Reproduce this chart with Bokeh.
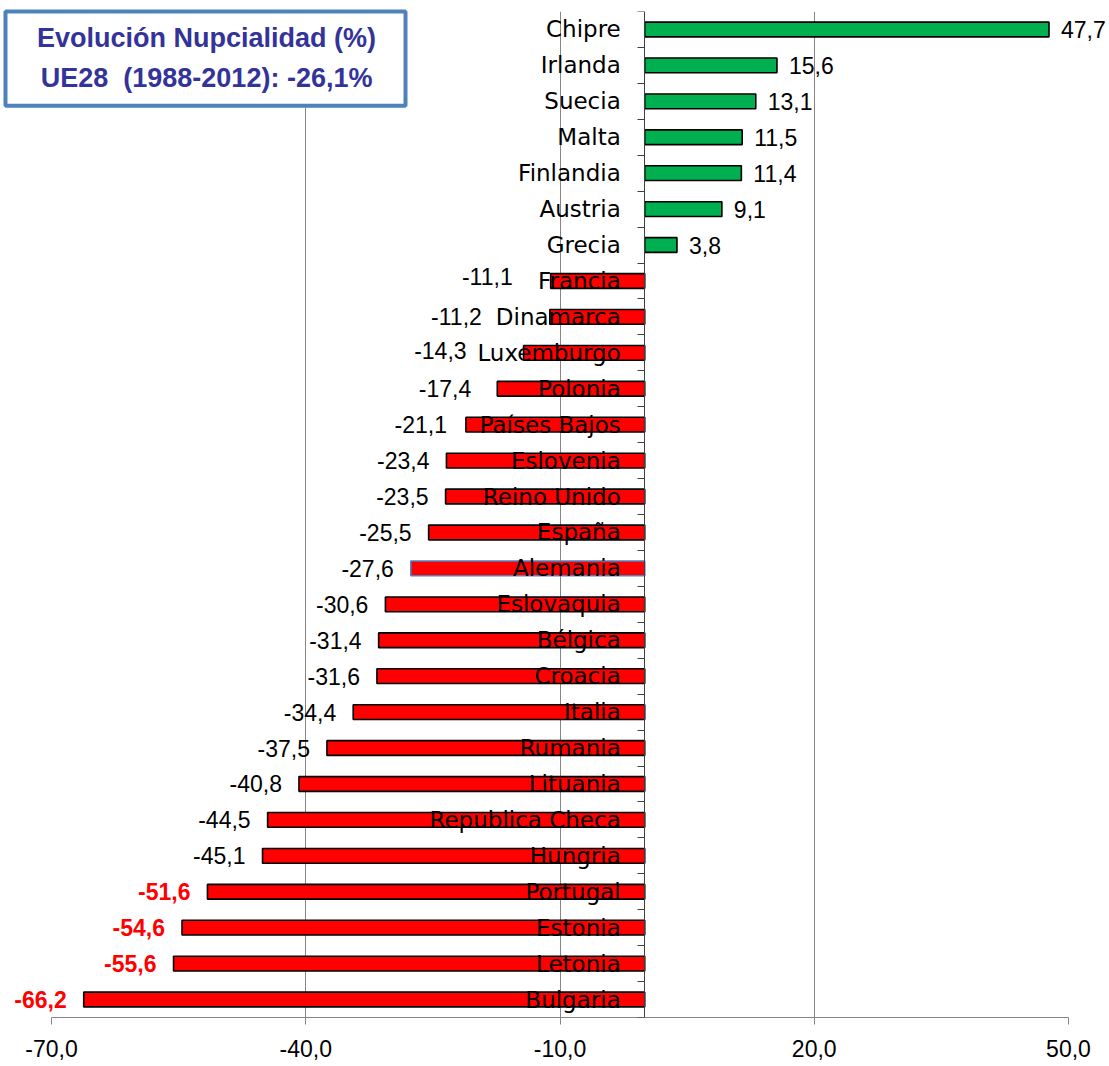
from bokeh.plotting import figure
from bokeh.models import (ColumnDataSource, Range1d, FixedTicker, LinearAxis)
from bokeh.core.properties import value
from bokeh.embed import file_html
from bokeh.resources import INLINE

# ---------------- data ----------------
countries = ["Chipre", "Irlanda", "Suecia", "Malta", "Finlandia", "Austria", "Grecia",
             "Francia", "Dinamarca", "Luxemburgo", "Polonia", "Países Bajos", "Eslovenia",
             "Reino Unido", "España", "Alemania", "Eslovaquia", "Bélgica", "Croacia",
             "Italia", "Rumania", "Lituania", "Republica Checa", "Hungria", "Portugal",
             "Estonia", "Letonia", "Bulgaria"]
values = [47.7, 15.6, 13.1, 11.5, 11.4, 9.1, 3.8,
          -11.1, -11.2, -14.3, -17.4, -21.1, -23.4,
          -23.5, -25.5, -27.6, -30.6, -31.4, -31.6,
          -34.4, -37.5, -40.8, -44.5, -45.1, -51.6,
          -54.6, -55.6, -66.2]
x_ticks = [-70, -40, -10, 20, 50]
x_tick_labels = ["-70,0", "-40,0", "-10,0", "20,0", "50,0"]
title_lines = ["Evolución Nupcialidad (%)", "UE28\u00a0 (1988-2012): -26,1%"]
highlighted = ["Alemania"]  # bar with bluish outline

# ---------------- styling helpers ----------------
GREEN = "#00B050"
RED = "#FF0000"
# manual label shifts (px) as in the reference (dx, dy)
label_shift = {"Francia": (-21, -4), "Dinamarca": (-51, 0), "Luxemburgo": (-40, -2),
               "Polonia": (-9, 0), "Países Bajos": (-2, 0)}

n = len(countries)
ypos = [n - i for i in range(n)]
fills = [GREEN if v >= 0 else RED for v in values]
lines = ["#4F81BD" if c in highlighted else "black" for c in countries]
vtext = [f"{v:.1f}".replace(".", ",") for v in values]
valign = ["left" if v >= 0 else "right" for v in values]
vxoff = []
vyoff = []
for c, v in zip(countries, values):
    dx, dy = label_shift.get(c, (0, 0))
    vxoff.append((12 if v >= 0 else -17) + dx)
    vyoff.append(dy)
vcolor = [RED if v <= -50 else "black" for v in values]
vstyle = ["bold" if v <= -50 else "normal" for v in values]

src = ColumnDataSource(dict(y=ypos, value=values, name=countries, fill=fills, line=lines,
                            vtext=vtext, valign=valign, vxoff=vxoff, vyoff=vyoff,
                            vcolor=vcolor, vstyle=vstyle))

p = figure(width=1106, height=1064, output_backend="svg", toolbar_location=None,
           x_range=Range1d(-70, 50), y_range=Range1d(0.5, n + 0.5),
           y_axis_location=None, min_border_left=51, min_border_right=38,
           min_border_top=11, min_border_bottom=47)
p.outline_line_color = None
p.background_fill_color = "white"

# grid
p.xgrid.ticker = FixedTicker(ticks=x_ticks)
p.xgrid.grid_line_color = "#868686"
p.xgrid.grid_line_width = 1
p.ygrid.grid_line_color = None

# x axis
xa = p.xaxis[0]
xa.ticker = FixedTicker(ticks=x_ticks)
xa.major_label_overrides = {t: l for t, l in zip(x_ticks, x_tick_labels)}
xa.axis_line_color = "#868686"
xa.major_tick_line_color = "#868686"
xa.major_tick_out = 7
xa.major_tick_in = 0
xa.minor_tick_line_color = None
xa.major_label_standoff = 15
xa.major_label_text_font = "Liberation Sans"
xa.major_label_text_font_size = "23px"
xa.major_label_text_color = "black"

# bars
p.hbar(y="y", left=0, right="value", height=0.41, source=src,
       fill_color="fill", line_color="line", line_width=1.6)

# zero axis with category-boundary ticks
boundaries = [k + 0.5 for k in range(n + 1)]
ya = LinearAxis(fixed_location=0, ticker=FixedTicker(ticks=[], minor_ticks=boundaries))
ya.axis_line_color = "#404040"
ya.axis_line_width = 1
ya.minor_tick_line_color = "#404040"
ya.minor_tick_out = 7
ya.minor_tick_in = 0
ya.major_tick_line_color = None
p.add_layout(ya, "left")

# category labels
p.text(x=0, y="y", text="name", source=src, x_offset=-24, text_align="right",
       text_baseline="middle", text_font=value("DejaVu Sans"), text_font_size="23px",
       text_color="black", level="overlay")

# value labels
p.text(x="value", y="y", text="vtext", source=src, x_offset="vxoff", y_offset="vyoff",
       text_align="valign", text_baseline="middle", text_font=value("Liberation Sans"),
       text_font_size="23px", text_color="vcolor", text_font_style="vstyle",
       level="overlay")

# title box (drawn as overlay so it is not clipped to the frame)
p.quad(left=[-75.43], right=[-28.23], top=[28.5], bottom=[25.88],
       fill_color="white", line_color="#4F81BD", line_width=4, level="overlay")
p.text(x=[-51.7, -51.7], y=[27.75, 26.66], text=title_lines, text_align="center",
       text_baseline="middle", text_font=value("Liberation Sans"), text_font_style="bold",
       text_font_size="27px", text_color="#333399", level="overlay")

open("out.html", "w").write(file_html(p, INLINE))
